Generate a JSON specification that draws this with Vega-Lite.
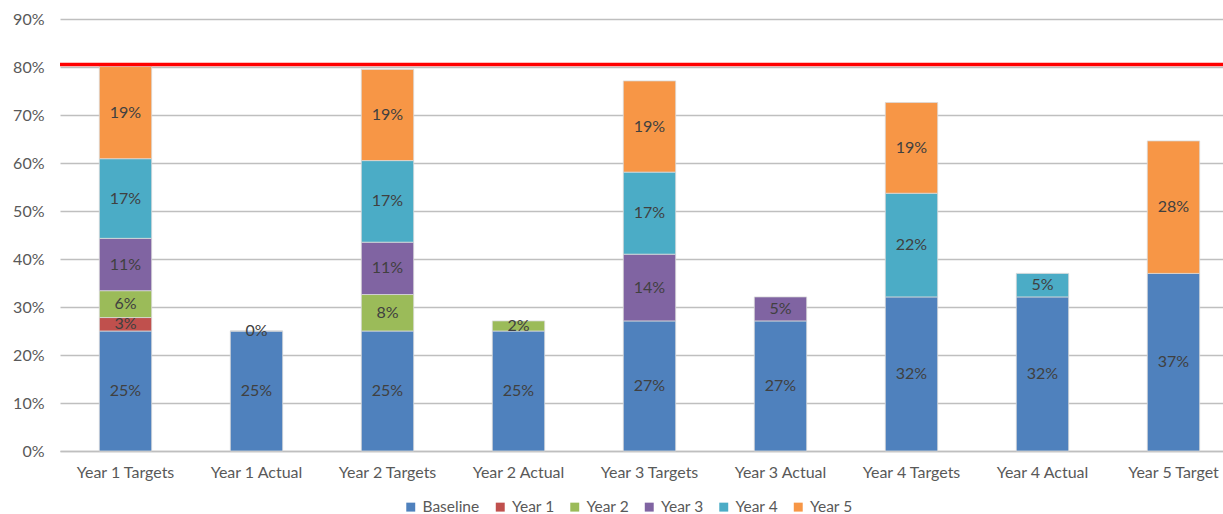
{
  "$schema": "https://vega.github.io/schema/vega-lite/v6.json",
  "width": 1163,
  "height": 432,
  "autosize": {"type": "none"},
  "padding": {"left": 60, "top": 19, "right": 0, "bottom": 63},
  "config": {"font": "Lato", "view": {"stroke": null}},
  "data": {
    "values": [
      {"cat": "Year 1 Targets", "series": "Baseline", "value": 0.25},
      {"cat": "Year 1 Targets", "series": "Year 1", "value": 0.028},
      {"cat": "Year 1 Targets", "series": "Year 2", "value": 0.056},
      {"cat": "Year 1 Targets", "series": "Year 3", "value": 0.109},
      {"cat": "Year 1 Targets", "series": "Year 4", "value": 0.166},
      {"cat": "Year 1 Targets", "series": "Year 5", "value": 0.192},
      {"cat": "Year 1 Actual", "series": "Baseline", "value": 0.25},
      {"cat": "Year 1 Actual", "series": "Year 1", "value": 0.0},
      {"cat": "Year 2 Targets", "series": "Baseline", "value": 0.25},
      {"cat": "Year 2 Targets", "series": "Year 2", "value": 0.076},
      {"cat": "Year 2 Targets", "series": "Year 3", "value": 0.109},
      {"cat": "Year 2 Targets", "series": "Year 4", "value": 0.17},
      {"cat": "Year 2 Targets", "series": "Year 5", "value": 0.19},
      {"cat": "Year 2 Actual", "series": "Baseline", "value": 0.25},
      {"cat": "Year 2 Actual", "series": "Year 2", "value": 0.021},
      {"cat": "Year 3 Targets", "series": "Baseline", "value": 0.271},
      {"cat": "Year 3 Targets", "series": "Year 3", "value": 0.139},
      {"cat": "Year 3 Targets", "series": "Year 4", "value": 0.171},
      {"cat": "Year 3 Targets", "series": "Year 5", "value": 0.19},
      {"cat": "Year 3 Actual", "series": "Baseline", "value": 0.271},
      {"cat": "Year 3 Actual", "series": "Year 3", "value": 0.05},
      {"cat": "Year 4 Targets", "series": "Baseline", "value": 0.321},
      {"cat": "Year 4 Targets", "series": "Year 4", "value": 0.216},
      {"cat": "Year 4 Targets", "series": "Year 5", "value": 0.189},
      {"cat": "Year 4 Actual", "series": "Baseline", "value": 0.321},
      {"cat": "Year 4 Actual", "series": "Year 4", "value": 0.049},
      {"cat": "Year 5 Target", "series": "Baseline", "value": 0.37},
      {"cat": "Year 5 Target", "series": "Year 5", "value": 0.276}
    ]
  },
  "layer": [
    {
      "mark": {"type": "bar", "stroke": "#D9D9D9", "strokeWidth": 0.8},
      "encoding": {
        "x": {
          "field": "cat",
          "type": "nominal",
          "sort": ["Year 1 Targets", "Year 1 Actual", "Year 2 Targets", "Year 2 Actual", "Year 3 Targets", "Year 3 Actual", "Year 4 Targets", "Year 4 Actual", "Year 5 Target"],
          "scale": {"range": [0, 1179], "paddingInner": 0.6, "paddingOuter": 0.3},
          "axis": {
            "title": null,
            "labelAngle": 0,
            "labelFontSize": 16,
            "labelColor": "#595959",
            "ticks": false,
            "domainColor": "#BFBFBF",
            "domainWidth": 1.5,
            "labelPadding": 13
          }
        },
        "y": {
          "field": "value",
          "type": "quantitative",
          "stack": "zero",
          "scale": {"domain": [0, 0.9]},
          "axis": {
            "title": null,
            "values": [0, 0.1, 0.2, 0.3, 0.4, 0.5, 0.6, 0.7, 0.8, 0.9],
            "format": ".0%",
            "labelFontSize": 16,
            "labelColor": "#595959",
            "gridColor": "#BFBFBF",
            "gridWidth": 1.3,
            "domain": false,
            "ticks": false,
            "labelPadding": 16
          }
        },
        "order": {"field": "series", "sort": "ascending"},
        "color": {
          "field": "series",
          "type": "nominal",
          "scale": {
            "domain": ["Baseline", "Year 1", "Year 2", "Year 3", "Year 4", "Year 5"],
            "range": ["#4F81BD", "#C0504D", "#9BBB59", "#8064A2", "#4BACC6", "#F79646"]
          },
          "legend": {
            "title": null,
            "orient": "none",
            "legendX": 343,
            "legendY": 480,
            "direction": "horizontal",
            "symbolType": "square",
            "symbolSize": 80,
            "symbolStrokeWidth": 0,
            "labelFontSize": 15.5,
            "labelColor": "#595959",
            "columnPadding": 12.5,
            "labelOffset": 4,
            "padding": 0
          }
        }
      }
    },
    {
      "transform": [
        {"stack": "value", "groupby": ["cat"], "sort": [{"field": "series", "order": "ascending"}], "as": ["v0", "v1"]},
        {"fold": ["v0", "v1"], "as": ["k", "pos"]},
        {"aggregate": [{"op": "mean", "field": "pos", "as": "mid"}], "groupby": ["cat", "series", "value"]}
      ],
      "mark": {"type": "text", "fontSize": 16, "color": "#404040", "baseline": "middle"},
      "encoding": {
        "x": {
          "field": "cat",
          "type": "nominal",
          "sort": ["Year 1 Targets", "Year 1 Actual", "Year 2 Targets", "Year 2 Actual", "Year 3 Targets", "Year 3 Actual", "Year 4 Targets", "Year 4 Actual", "Year 5 Target"]
        },
        "y": {"field": "mid", "type": "quantitative"},
        "text": {"field": "value", "type": "quantitative", "format": ".0%"}
      }
    },
    {
      "data": {"values": [{"target": 0.805}]},
      "mark": {"type": "rule", "color": "#FF0000", "strokeWidth": 3.5},
      "encoding": {"y": {"field": "target", "type": "quantitative"}}
    }
  ]
}
